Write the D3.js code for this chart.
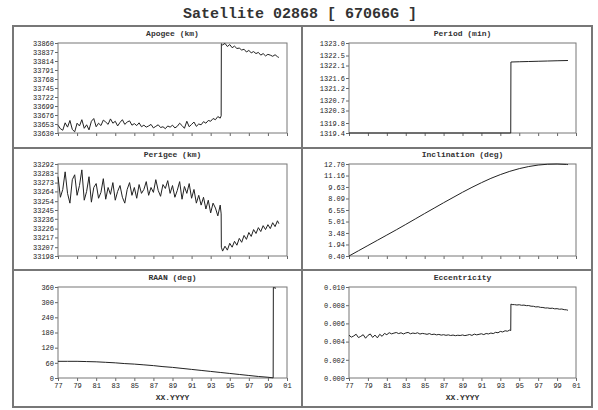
<!DOCTYPE html>
<html>
<head>
<meta charset="utf-8">
<script src="https://cdn.jsdelivr.net/npm/d3@7"></script>
<style>
body { margin: 0; background: #fff; }
text { font-family: "Liberation Mono", "DejaVu Sans Mono", monospace; }
</style>
</head>
<body>
<div id="chart"></div>
<script>
// ---- data ----
var epochs = [1977.00,1977.25,1977.50,1977.75,1978.00,1978.25,1978.50,1978.75,1979.00,1979.25,1979.50,1979.75,
  1980.00,1980.25,1980.50,1980.75,1981.00,1981.25,1981.50,1981.75,1982.00,1982.25,1982.50,1982.75,
  1983.00,1983.25,1983.50,1983.75,1984.00,1984.25,1984.50,1984.75,1985.00,1985.25,1985.50,1985.75,
  1986.00,1986.25,1986.50,1986.75,1987.00,1987.25,1987.50,1987.75,1988.00,1988.25,1988.50,1988.75,
  1989.00,1989.25,1989.50,1989.75,1990.00,1990.25,1990.50,1990.75,1991.00,1991.25,1991.50,1991.75,
  1992.00,1992.25,1992.50,1992.75,1993.00,1993.25,1993.50,1993.75,1994.00,1994.10,1994.12,1994.25,
  1994.50,1994.75,1995.00,1995.25,1995.50,1995.75,1996.00,1996.25,1996.50,1996.75,1997.00,1997.25,
  1997.50,1997.75,1998.00,1998.25,1998.50,1998.75,1999.00,1999.25,1999.50,1999.75,2000.00,2000.15];

var apogee = [33650,33641,33637,33656,33645,33662,33639,33633,33655,33648,33664,33642,
  33651,33638,33660,33667,33646,33655,33649,33663,33658,33652,33666,33655,
  33660,33648,33657,33664,33652,33658,33661,33650,33654,33649,33656,33646,
  33650,33645,33648,33652,33643,33647,33651,33644,33646,33641,33648,33645,
  33650,33643,33647,33655,33649,33642,33660,33646,33652,33658,33647,33653,
  33651,33659,33655,33662,33660,33667,33664,33672,33668,33674,33858,33855,
  33859,33851,33856,33848,33852,33846,33847,33842,33844,33837,33841,33835,
  33838,33833,33836,33829,33833,33827,33831,33829,33826,33830,33825,33823];

var perigee = [33279,33258,33266,33284,33262,33252,33276,33281,33260,33270,33286,33255,
  33264,33279,33253,33268,33272,33257,33263,33277,33256,33268,33261,33273,
  33255,33264,33270,33258,33252,33266,33273,33260,33268,33257,33271,33262,
  33266,33274,33260,33268,33263,33276,33265,33259,33271,33267,33275,33262,
  33270,33258,33265,33274,33256,33269,33262,33272,33257,33266,33252,33260,
  33250,33258,33246,33255,33242,33252,33247,33239,33250,33241,33207,33203,
  33208,33204,33211,33207,33213,33209,33216,33212,33219,33215,33222,33218,
  33225,33221,33227,33223,33229,33225,33230,33226,33232,33228,33234,33231];

var eccentricity = [0.00470,0.00449,0.00462,0.00481,0.00444,0.00458,0.00476,0.00437,0.00468,0.00484,0.00446,0.00472,
  0.00441,0.00480,0.00458,0.00490,0.00476,0.00498,0.00485,0.00493,0.00500,0.00488,0.00497,0.00484,
  0.00495,0.00501,0.00486,0.00494,0.00489,0.00497,0.00483,0.00490,0.00486,0.00480,0.00488,0.00477,
  0.00482,0.00474,0.00479,0.00471,0.00476,0.00469,0.00474,0.00467,0.00472,0.00465,0.00470,0.00467,
  0.00473,0.00466,0.00471,0.00478,0.00468,0.00482,0.00474,0.00480,0.00486,0.00477,0.00489,0.00484,
  0.00494,0.00488,0.00502,0.00497,0.00512,0.00506,0.00519,0.00514,0.00527,0.00521,0.00812,0.00807,
  0.00806,0.00802,0.00805,0.00799,0.00801,0.00795,0.00796,0.00789,0.00788,0.00781,0.00783,0.00776,
  0.00775,0.00769,0.00770,0.00765,0.00767,0.00760,0.00762,0.00756,0.00758,0.00751,0.00749,0.00744];

var periodEpochs = [1977.0, 1994.10, 1994.12, 1995.0, 1996.0, 1997.0, 1998.0, 1999.0, 2000.15];
var period = [1319.4, 1319.4, 1322.24, 1322.25, 1322.26, 1322.27, 1322.28, 1322.29, 1322.30];

var incEpochs = [1977,1978,1979,1980,1981,1982,1983,1984,1985,1986,1987,1988,1989,1990,1991,
  1992,1993,1994,1995,1996,1997,1998,1999,2000,2000.15];
var inclination = [0.40,1.10,1.80,2.50,3.20,3.90,4.62,5.35,6.08,6.80,7.52,8.22,8.92,9.58,10.20,
  10.78,11.28,11.72,12.08,12.36,12.56,12.67,12.70,12.64,12.62];

var raanEpochs = [1977,1978,1979,1980,1981,1982,1983,1984,1985,1986,1987,1988,1989,1990,1991,
  1992,1993,1994,1995,1996,1997,1998,1999,1999.55,1999.57,1999.85];
var raan = [66,66,66,65,64,62,60,57,55,52,49,45,42,38,34,30,26,22,18,14,10,6,3,0.5,358,355];

var yearTicks = [1977,1979,1981,1983,1985,1987,1989,1991,1993,1995,1997,1999,2001];
var yearLabels = ["77","79","81","83","85","87","89","91","93","95","97","99","01"];

var apogeeTicks = ["33630","33653","33676","33699","33722","33745","33768","33791","33814","33837","33860"];
var periodTicks = ["1319.4","1319.8","1320.3","1320.7","1321.2","1321.6","1322.1","1322.5","1323.0"];
var perigeeTicks = ["33198","33207","33217","33226","33236","33245","33254","33264","33273","33283","33292"];
var incTicks = ["0.40","1.94","3.48","5.01","6.55","8.09","9.63","11.16","12.70"];
var raanTicks = ["0","60","120","180","240","300","360"];
var eccTicks = ["0.000","0.002","0.004","0.006","0.008","0.010"];

// ---- layout ----
var W = 598, H = 410;
var svg = d3.select("#chart").append("svg")
    .attr("width", W)
    .attr("height", H);

svg.append("text")
    .attr("x", 300).attr("y", 18)
    .attr("text-anchor", "middle")
    .style("font-size", "15px")
    .style("font-weight", "bold")
    .attr("fill", "#333")
    .text("Satellite 02868 [ 67066G ]");

// outer frame and cell dividers
var frame = svg.append("g").attr("stroke", "#777").attr("stroke-width", 2).attr("fill", "none");
frame.append("rect").attr("x", 13).attr("y", 26).attr("width", 579).attr("height", 381);
frame.append("line").attr("x1", 302).attr("x2", 302).attr("y1", 26).attr("y2", 407);
frame.append("line").attr("x1", 13).attr("x2", 592).attr("y1", 148).attr("y2", 148);
frame.append("line").attr("x1", 13).attr("x2", 592).attr("y1", 270).attr("y2", 270);

var cols = [{x: 58, w: 229}, {x: 349, w: 227}];
var rows = [{y: 43, h: 90}, {y: 164, h: 92}, {y: 287, h: 91}];

var panels = [
  {title: "Apogee  (km)", c: 0, r: 0, xs: epochs, ys: apogee, ticks: apogeeTicks},
  {title: "Period  (min)", c: 1, r: 0, xs: periodEpochs, ys: period, ticks: periodTicks},
  {title: "Perigee  (km)", c: 0, r: 1, xs: epochs, ys: perigee, ticks: perigeeTicks},
  {title: "Inclination  (deg)", c: 1, r: 1, xs: incEpochs, ys: inclination, ticks: incTicks},
  {title: "RAAN  (deg)", c: 0, r: 2, xs: raanEpochs, ys: raan, ticks: raanTicks},
  {title: "Eccentricity", c: 1, r: 2, xs: epochs, ys: eccentricity, ticks: eccTicks}
];

panels.forEach(function(p) {
  var col = cols[p.c], row = rows[p.r];
  var x = d3.scaleLinear().domain([1977, 2001]).range([0, col.w]);
  var y = d3.scaleLinear()
      .domain([+p.ticks[0], +p.ticks[p.ticks.length - 1]])
      .range([row.h, 0]);

  var g = svg.append("g")
      .attr("transform", "translate(" + col.x + "," + row.y + ")");

  g.append("text")
      .attr("x", col.w / 2).attr("y", -7)
      .attr("text-anchor", "middle")
      .style("font-size", "8px")
      .style("font-weight", "bold")
      .attr("fill", "#333")
      .text(p.title);

  // x axis, labels only on the bottom row
  var xa = d3.axisBottom(x).tickValues(yearTicks).tickSize(3).tickPadding(2)
      .tickFormat(function(d, i) { return p.r == 2 ? yearLabels[i] : ""; });
  var gx = g.append("g").attr("transform", "translate(0," + row.h + ")").call(xa);

  var ya = d3.axisLeft(y).tickValues(p.ticks.map(Number)).tickSize(3).tickPadding(1)
      .tickFormat(function(d, i) { return p.ticks[i]; });
  var gy = g.append("g").call(ya);

  [gx, gy].forEach(function(a) {
    a.select(".domain").remove();
    a.selectAll("line").attr("stroke", "#666");
    a.selectAll("text").style("font-size", "7px").attr("fill", "#222");
  });

  if (p.r == 2) {
    g.append("text")
        .attr("x", col.w / 2).attr("y", row.h + 22)
        .attr("text-anchor", "middle")
        .style("font-size", "8px")
        .style("font-weight", "bold")
        .attr("fill", "#333")
        .text("XX.YYYY");
  }

  g.append("rect")
      .attr("width", col.w).attr("height", row.h)
      .attr("fill", "none").attr("stroke", "#777").attr("stroke-width", 1);

  var line = d3.line()
      .x(function(d, i) { return x(p.xs[i]); })
      .y(function(d) { return y(d); });

  g.append("path")
      .datum(p.ys)
      .attr("d", line)
      .attr("fill", "none")
      .attr("stroke", "#222")
      .attr("stroke-width", 1);
});
</script>
</body>
</html>
